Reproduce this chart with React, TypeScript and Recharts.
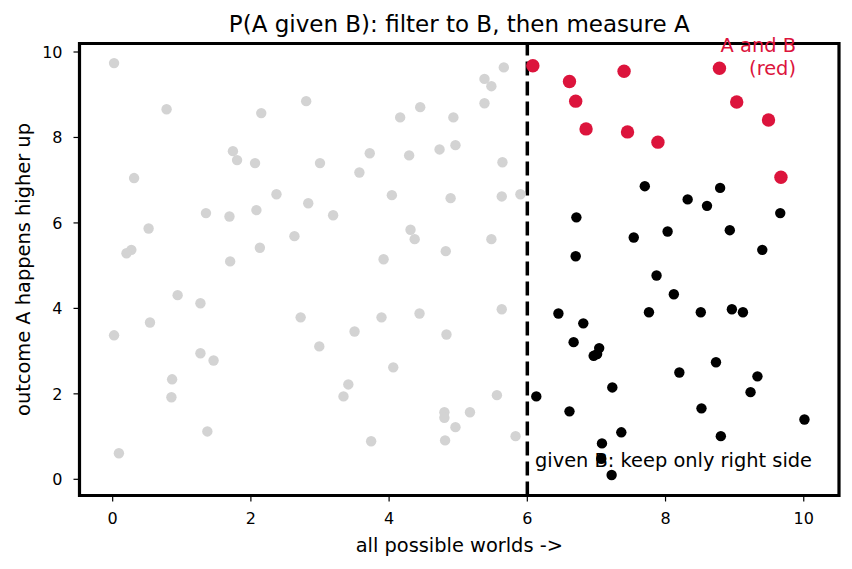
import React from 'react';
import { ScatterChart, Scatter, XAxis, YAxis, ReferenceLine, ReferenceArea } from 'recharts';

// worlds outside B (x < 6), drawn light grey
const notB: [number, number][] = [
  [0.02, 9.74], [0.78, 8.66], [2.15, 8.57], [2.8, 8.85], [1.74, 7.68], [1.8, 7.47],
  [2.06, 7.4], [0.31, 7.05], [2.37, 6.67], [2.83, 6.46], [1.35, 6.23], [1.69, 6.15],
  [2.08, 6.3], [0.52, 5.87], [2.63, 5.69], [2.13, 5.42], [0.27, 5.37], [0.2, 5.29],
  [1.7, 5.1], [0.94, 4.31], [1.27, 4.12], [0.54, 3.67], [0.02, 3.37], [2.72, 3.79],
  [1.27, 2.95], [1.46, 2.78], [0.86, 2.34], [0.85, 1.92], [1.37, 1.12], [0.09, 0.61],
  [5.66, 9.64], [5.38, 9.37], [5.48, 9.2], [5.38, 8.8], [4.45, 8.71], [4.16, 8.47],
  [4.93, 8.47], [3.72, 7.63], [4.29, 7.58], [4.73, 7.72], [4.96, 7.82], [3.0, 7.4],
  [3.57, 7.18], [5.64, 7.42], [4.04, 6.65], [4.89, 6.58], [5.63, 6.62], [5.9, 6.67],
  [3.19, 6.18], [4.31, 5.84], [4.37, 5.62], [5.48, 5.62], [4.82, 5.34], [3.92, 5.15],
  [3.89, 3.79], [4.44, 3.88], [3.5, 3.46], [4.83, 3.39], [5.63, 3.98], [2.99, 3.11],
  [4.06, 2.62], [3.41, 2.22], [3.34, 1.94], [5.56, 1.97], [4.8, 1.57], [4.8, 1.44],
  [5.17, 1.57], [4.96, 1.22], [5.83, 1.01], [3.74, 0.89], [4.81, 0.91],
];

// B but not A, drawn black
const bOnly: [number, number][] = [
  [7.7, 6.86], [8.79, 6.82], [8.32, 6.55], [8.6, 6.4], [6.71, 6.13], [9.66, 6.23],
  [7.54, 5.66], [8.03, 5.8], [8.93, 5.83], [9.4, 5.37], [6.7, 5.22], [7.87, 4.77],
  [8.12, 4.33], [6.45, 3.88], [7.76, 3.91], [8.51, 3.91], [8.96, 3.98], [9.12, 3.91],
  [6.81, 3.65], [6.67, 3.21], [7.04, 3.07], [6.96, 2.89], [7.01, 2.93], [8.73, 2.74],
  [8.2, 2.5], [9.33, 2.41], [7.23, 2.15], [9.23, 2.04], [6.13, 1.94], [6.61, 1.59],
  [8.52, 1.66], [10.01, 1.4], [7.36, 1.1], [8.8, 1.01], [7.08, 0.84], [7.07, 0.48],
  [7.22, 0.1],
];

// A and B, drawn red
const aAndB: [number, number][] = [
  [6.08, 9.68], [6.61, 9.31], [6.7, 8.85], [6.85, 8.2], [7.4, 9.55], [7.45, 8.13],
  [7.89, 7.89], [8.78, 9.62], [9.03, 8.83], [9.49, 8.41], [9.67, 7.07],
];

const xTicks = [0, 2, 4, 6, 8, 10];
const yTicks = [0, 2, 4, 6, 8, 10];
const bThreshold = 6;

const xDomain: [number, number] = [-0.48, 10.51];
const yDomain: [number, number] = [-0.379, 10.199];

const FONT = 'DejaVu Sans';
const RED = '#dc143c';

const toRows = (pts: [number, number][]) => pts.map(([x, y]) => ({ x, y }));

const dot = (r: number, fill: string) => (props: any) =>
  <circle cx={props.cx} cy={props.cy} r={r} fill={fill} />;

const tickStyle = { fill: '#000', fontSize: 16, fontFamily: FONT };

export default function App() {
  return (
    <div style={{ position: 'absolute', left: 0, top: 0, width: 852, height: 569, background: '#fff' }}>
      <ScatterChart width={852} height={569} margin={{ top: 43.5, right: 13, bottom: 0, left: 0 }}>
        <XAxis
          type="number"
          dataKey="x"
          domain={xDomain}
          ticks={xTicks}
          allowDataOverflow
          height={73.5}
          axisLine={false}
          tickLine={{ stroke: '#000', strokeWidth: 1.2 }}
          tickSize={6}
          tickMargin={11}
          tick={tickStyle}
        />
        <YAxis
          type="number"
          dataKey="y"
          domain={yDomain}
          ticks={yTicks}
          allowDataOverflow
          width={79.5}
          axisLine={false}
          tickLine={{ stroke: '#000', strokeWidth: 1.2 }}
          tickSize={6}
          tickMargin={11}
          tick={tickStyle}
        />
        <ReferenceLine x={bThreshold} stroke="#000" strokeWidth={3.5} strokeDasharray="14 6" />
        <Scatter data={toRows(notB)} shape={dot(5.2, '#d3d3d3')} isAnimationActive={false} />
        <Scatter data={toRows(bOnly)} shape={dot(5.2, '#000')} isAnimationActive={false} />
        <Scatter data={toRows(aAndB)} shape={dot(6.7, RED)} isAnimationActive={false} />
        <ReferenceArea
          x1={xDomain[0]}
          x2={xDomain[1]}
          y1={yDomain[0]}
          y2={yDomain[1]}
          fill="none"
          fillOpacity={0}
          stroke="#000"
          strokeWidth={3.2}
          ifOverflow="visible"
        />
      </ScatterChart>
      <svg
        width={852}
        height={569}
        style={{ position: 'absolute', left: 0, top: 0, pointerEvents: 'none' }}
        fontFamily={FONT}
      >
        <text x={459.3} y={32} textAnchor="middle" fontSize={23} fill="#000">
          P(A given B): filter to B, then measure A
        </text>
        <text x={459.3} y={552} textAnchor="middle" fontSize={19.4} fill="#000">
          all possible worlds -&gt;
        </text>
        <text
          x={30}
          y={269.5}
          textAnchor="middle"
          fontSize={19.4}
          fill="#000"
          transform="rotate(-90, 30, 269.5)"
        >
          outcome A happens higher up
        </text>
        <text x={535} y={467} fontSize={19.4} fill="#000">
          given B: keep only right side
        </text>
        <text x={796} y={51.7} textAnchor="end" fontSize={19.4} fill={RED}>
          A and B
        </text>
        <text x={796} y={75} textAnchor="end" fontSize={19.4} fill={RED}>
          (red)
        </text>
      </svg>
    </div>
  );
}
